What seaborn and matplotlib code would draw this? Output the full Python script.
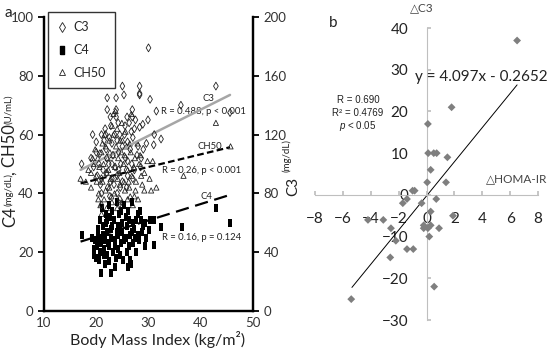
import numpy as np
import pandas as pd
import matplotlib
matplotlib.use("Agg")
import matplotlib.pyplot as plt
import seaborn as sns
from matplotlib.lines import Line2D

# ---------------- Panel a data ----------------
c3_bmi = [30.0, 25.0, 28.3, 42.9, 28.3, 22.1, 23.8, 25.3, 28.3, 30.3, 22.1, 23.8, 26.9, 31.5, 45.6,
          22.7, 23.8, 25.9, 26.9, 36.2,
          19.3, 21.0, 21.8, 23.5, 24.5, 25.4, 26.7, 27.3, 28.3, 28.9, 29.9, 31.1, 32.4, 29.6, 31.0,
          20.0, 20.7, 21.9, 17.2,
          21.5, 22.5, 23.0, 24.0, 25.0, 26.0, 27.0, 28.0, 22.0, 23.2, 24.3, 25.6, 26.5, 27.8, 29.0,
          19.5, 20.5, 21.3, 22.4, 23.6, 24.7, 25.8, 26.8, 28.5, 20.2, 21.0, 22.0, 23.0, 24.0, 25.0,
          26.0, 27.0, 20.8, 22.2, 23.4, 24.6, 25.8, 21.0, 22.6, 24.0, 21.0, 24.5, 24.5,
          19.0, 20.0, 21.7, 22.8, 24.2, 25.5, 26.3, 27.5, 23.0, 26.0, 27.3, 28.6, 22.7, 24.3]
c3_val = [179, 153, 153, 153, 148, 145, 145, 147, 147, 144, 137, 137, 137, 136, 135,
          132, 132, 132, 132, 140,
          120, 120, 120, 120, 120, 120, 122, 124, 125, 127, 130, 120, 117, 114, 113,
          108, 107, 110, 100,
          116, 118, 114, 116, 112, 115, 118, 112, 104, 106, 108, 104, 110, 106, 110,
          98, 100, 96, 100, 98, 100, 96, 100, 98, 92, 90, 94, 90, 92, 88,
          92, 90, 86, 84, 86, 84, 84, 80, 78, 80, 72, 73, 76,
          104, 115, 124, 126, 128, 126, 128, 130, 100, 102, 96, 104, 88, 96]

ch50_bmi = [23.7, 26.7, 42.9, 45.7, 36.7, 17.0, 30.2, 29.2, 30.5, 31.5, 29.8, 30.8, 21.0,
            18.5, 19.5, 20.3, 21.0, 21.8, 22.5, 23.3, 24.0, 25.0, 25.8, 26.6, 27.4, 28.2,
            20.0, 21.2, 22.0, 22.8, 23.6, 24.4, 25.2, 26.0, 26.8, 27.6, 28.6,
            19.0, 20.5, 21.5, 22.5, 23.5, 24.5, 25.5, 26.5, 27.5,
            20.8, 22.0, 23.0, 24.0, 25.0, 26.0, 27.0, 28.0,
            19.8, 21.6, 23.0, 24.8, 25.6, 27.9, 22.2, 20.6, 24.2, 26.2, 28.8,
            19.0, 20.1, 21.4, 22.6, 23.8, 24.6, 25.4, 26.4, 27.2, 28.4, 29.2,
            20.4, 21.8, 22.9, 24.1, 25.3, 26.3, 27.3, 23.2, 21.2, 18.0, 19.3, 22.3, 24.9, 23.3]
ch50_val = [68, 67, 64, 56, 46, 45, 45, 41, 41, 42, 51, 51, 33,
            48, 50, 52, 54, 56, 58, 60, 62, 58, 56, 54, 52, 50,
            46, 44, 47, 45, 49, 47, 50, 48, 46, 44, 46,
            42, 40, 38, 42, 40, 43, 41, 39, 41,
            36, 35, 37, 35, 37, 38, 36, 38,
            55, 60, 63, 54, 61, 57, 52, 49, 52, 44, 43,
            47, 44, 50, 54, 56, 58, 53, 57, 49, 53, 47,
            38, 41, 39, 45, 44, 42, 39, 53, 57, 44, 52, 48, 64, 67]

c4_bmi = [17.2, 21.0, 22.9, 42.9, 45.6, 32.4, 36.4, 31.1, 26.7, 26.4, 21.6, 20.0, 20.5,
          19.5, 20.2, 20.8, 21.5, 22.0, 22.5, 23.2, 23.8, 24.5, 25.2, 25.8, 26.2, 27.0, 27.6,
          19.8, 20.6, 21.3, 22.0, 22.8, 23.5, 24.2, 25.0, 25.7, 26.5, 27.3, 28.0, 28.8, 29.5,
          20.4, 21.2, 21.9, 22.6, 23.4, 24.1, 24.9, 25.6, 26.3, 27.1, 27.9, 28.6, 29.4, 30.2, 31.0,
          21.8, 23.0, 24.4, 25.4, 26.0, 28.3, 22.2, 23.6, 24.8, 19.6, 29.0, 30.0, 24.0, 21.1,
          22.4, 26.9, 23.9, 25.3, 20.9,
          19.2, 20.3, 21.7, 22.9, 24.6, 25.9, 26.8, 27.4, 28.2, 29.3, 20.7, 22.1, 23.1, 24.7,
          27.6, 23.5, 22.5, 24.2, 26.0, 21.4]
c4_val = [26, 13, 13, 35, 30, 28.5, 28.5, 22.5, 16, 17.5, 16, 18, 17.5,
          21, 22, 20, 21, 19, 22, 20, 18, 19, 17.5, 20, 22, 23, 20,
          24, 25, 26, 27, 25, 24, 26, 27, 25, 26, 28, 26, 27, 25,
          28, 29, 30, 32, 31, 29, 30, 32, 31, 30, 33, 31, 30, 31, 31,
          33, 34, 33, 36, 34, 34, 23, 22, 23, 19, 29, 27.5, 37, 35,
          36, 37, 27, 24, 23,
          25, 26, 24, 28, 28, 29, 27, 25, 24, 22, 31, 31, 29, 34,
          31, 15, 17, 21, 15, 19]

# trend lines (BMI range, fitted values)
trend_bmi = [17.0, 45.6]
trend_c3 = [96, 147]       # right axis, mg/dL
trend_ch50 = [43.4, 55.7]  # left axis, U/mL
trend_c4 = [23.6, 39.5]    # left axis, mg/dL

# ---------------- Panel b data ----------------
homa = [6.5, 1.8, 0.1, 0.12, 0.52, 0.73, 1.5, 0.3, 0.05, 1.4, -1.0, -0.85, -1.7, -1.4, -0.35,
        0.7, 0.3, 1.9, -4.2, -3.1, -0.2, 0.3, -0.2, 0.1, 0.9, -2.55, 0.2, -2.2, -1.4, -0.95,
        -2.6, 0.55, -5.4]
dc3 = [37, 21, 17, 10, 10, 10, 9, 6, 3, 3, 1, 1, -2, -1, -2,
       -1, -4, -5, -6, -6, -7.3, -7.3, -8, -8, -8, -8, -10, -11, -13, -13,
       -15, -22, -25]
slope, intercept = 4.097, -0.2652
fit_x_range = [-5.35, 6.5]

# ---------------- Figure ----------------
sns.set_theme(style="ticks")
plt.rcParams['font.family'] = ['Lato', 'DejaVu Sans']
plt.rcParams['mathtext.fontset'] = 'custom'
plt.rcParams['mathtext.rm'] = 'Liberation Sans'
plt.rcParams['mathtext.it'] = 'Liberation Sans:italic'

W, H = 548, 350
fig = plt.figure(figsize=(W / 100, H / 100), dpi=100)


def fpos(x, y):
    return x / W, 1 - y / H


ax = fig.add_axes([44 / W, 1 - 311 / H, (253 - 44) / W, (311 - 17) / H])
ax2 = ax.twinx()

rect = [(-0.55, -1), (0.55, -1), (0.55, 1), (-0.55, 1), (-0.55, -1)]

sns.scatterplot(x=ch50_bmi, y=ch50_val, ax=ax, marker='^', s=14, facecolors='none',
                edgecolor='#222222', linewidth=0.6, zorder=3)
sns.scatterplot(x=c4_bmi, y=c4_val, ax=ax, marker=rect, s=28, color='black',
                edgecolor='black', linewidth=0, zorder=3)
sns.scatterplot(x=c3_bmi, y=c3_val, ax=ax2, marker='d', s=16, facecolors='none',
                edgecolor='#222222', linewidth=0.6, zorder=3)

sns.lineplot(x=trend_bmi, y=trend_c3, ax=ax2, color='#a6a6a6', lw=1.8, estimator=None, sort=False)
sns.lineplot(x=trend_bmi, y=trend_ch50, ax=ax, color='black', lw=1.6,
             linestyle=(0, (3, 1.5)), estimator=None, sort=False)
sns.lineplot(x=trend_bmi, y=trend_c4, ax=ax, color='black', lw=1.6,
             linestyle=(0, (6, 3)), estimator=None, sort=False)

ax.set_xlim(10, 50)
ax.set_ylim(0, 100)
ax2.set_ylim(0, 200)
ax.set_xticks([10, 20, 30, 40, 50])
ax.set_yticks([0, 20, 40, 60, 80, 100])
ax2.set_yticks([0, 40, 80, 120, 160, 200])
for a in (ax, ax2):
    a.spines['top'].set_visible(False)
    for s in ('left', 'right', 'bottom'):
        a.spines[s].set_linewidth(1.6)
        a.spines[s].set_color('black')
    a.tick_params(labelsize=9.5, width=1.3, length=4, colors='black', labelcolor='#333333')
ax.tick_params(axis='x', length=0, pad=4)
ax.set_xlabel('')
ax.set_ylabel('')
ax2.set_ylabel('')

ax.text(32.4, 67.8, 'R = 0.488, p < 0.001', fontsize=6.8, va='center', ha='left', color='#222')
ax.text(41.4, 72.3, 'C3', fontsize=6.8, va='center', ha='center', color='#222')
ax.text(32.6, 47.7, 'R = 0.26, p < 0.001', fontsize=6.8, va='center', ha='left', color='#222')
ax.text(39.4, 56.0, 'CH50', fontsize=6.8, va='center', ha='left', color='#222')
ax.text(32.5, 25.1, 'R = 0.16, p = 0.124', fontsize=6.8, va='center', ha='left', color='#222')
ax.text(40.0, 39.0, 'C4', fontsize=6.8, va='center', ha='left', color='#222')

handles = [
    Line2D([], [], marker='d', ls='none', mfc='none', mec='#222222', mew=0.6, ms=5),
    Line2D([], [], marker=rect, ls='none', color='black', ms=6),
    Line2D([], [], marker='^', ls='none', mfc='none', mec='#222222', mew=0.6, ms=5),
]
leg = ax2.legend(handles, ['C3', 'C4', 'CH50'], loc='upper left',
                 bbox_to_anchor=(4 / 209, 1 + 5 / 294), frameon=True, fancybox=False,
                 edgecolor='black', fontsize=9, handlelength=0.8, handletextpad=0.5,
                 labelspacing=0.85, borderpad=0.75, borderaxespad=0)
leg.get_frame().set_linewidth(1.0)

fig.text(*fpos(70, 339), 'Body Mass Index (kg/m²)', fontsize=11.5, ha='left', va='center',
         color='#222')
fig.text(*fpos(10, 217), 'C4', fontsize=12, rotation=90, ha='center', va='center', color='#222')
fig.text(*fpos(9, 189), '(mg/dL)', fontsize=7, rotation=90, ha='center', va='center', color='#222')
fig.text(*fpos(10, 150), ', CH50', fontsize=12, rotation=90, ha='center', va='center', color='#222')
fig.text(*fpos(9, 109), '(U/mL)', fontsize=7, rotation=90, ha='center', va='center', color='#222')
fig.text(*fpos(8, 13), 'a', fontsize=11, ha='center', va='center', color='#222')

# ---------------- Panel b ----------------
bx = fig.add_axes([315 / W, 1 - 320 / H, (538 - 315) / W, (320 - 28) / H])
sns.scatterplot(x=homa, y=dc3, ax=bx, marker='D', s=16, color='#7f7f7f', edgecolor='none', zorder=3)
fx = np.array(fit_x_range)
sns.lineplot(x=fx, y=slope * fx + intercept, ax=bx, color='black', lw=0.7, estimator=None, sort=False)
bx.set_xlim(-8, 8)
bx.set_ylim(-30, 40)
bx.set_xticks(np.arange(-8, 9, 2))
bx.set_yticks(np.arange(-30, 41, 10))
bx.spines['left'].set_position(('data', 0))
bx.spines['bottom'].set_position(('data', 0))
bx.spines['top'].set_visible(False)
bx.spines['right'].set_visible(False)
for s in ('left', 'bottom'):
    bx.spines[s].set_color('#bfbfbf')
    bx.spines[s].set_linewidth(0.8)
bx.tick_params(axis='y', direction='in', length=3, color='#bfbfbf', pad=13, labelsize=11,
               labelcolor='#222')
bx.tick_params(axis='x', direction='in', length=3, color='#bfbfbf', pad=12, labelsize=11,
               labelcolor='#222')
bx.set_xlabel('')
bx.set_ylabel('')
bx.patch.set_alpha(0)

fig.text(*fpos(422, 8), '△C3', fontsize=8.5, ha='center', va='center', color='#444')
fig.text(*fpos(547, 179), '△HOMA-IR', fontsize=8.5, ha='right', va='center', color='#444')
fig.text(*fpos(481, 77), 'y = 4.097x - 0.2652', fontsize=11, ha='center', va='center', color='#222')
fig.text(*fpos(358, 100), 'R = 0.690', fontsize=7, ha='center', va='center', color='#222',
         family='Liberation Sans')
fig.text(*fpos(358, 113), 'R² = 0.4769', fontsize=7, ha='center', va='center', color='#222',
         family='Liberation Sans')
fig.text(*fpos(358, 126), '$p$ < 0.05', fontsize=7, ha='center', va='center', color='#222',
         family='Liberation Sans')
fig.text(*fpos(333, 23), 'b', fontsize=11, ha='center', va='center', color='#222')
fig.text(*fpos(293, 186), 'C3', fontsize=11, rotation=90, ha='center', va='center', color='#222')
fig.text(*fpos(287, 155), '(mg/dL)', fontsize=7, rotation=90, ha='center', va='center', color='#222')

fig.savefig('out.png', dpi=100)
